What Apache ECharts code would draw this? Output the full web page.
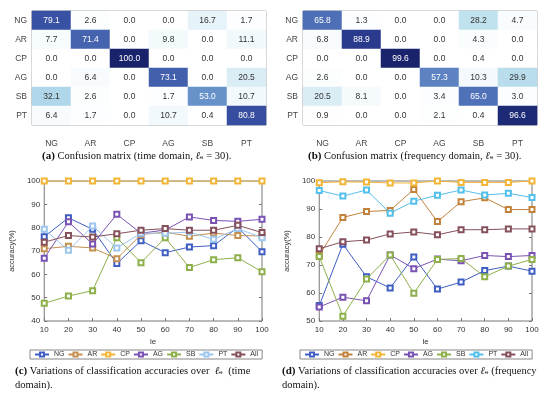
<!DOCTYPE html>
<html><head><meta charset="utf-8">
<script src="https://cdn.jsdelivr.net/npm/echarts@6/dist/echarts.min.js"></script>
<style>
html,body{margin:0;padding:0;background:#fff;}
#wrap{position:relative;width:550px;height:396px;}
#left,#right{position:absolute;top:0;width:275px;height:396px;}
#left{left:0;} #right{left:275px;}
</style>
</head><body>
<div id="wrap"><div id="left"></div><div id="right"></div></div>
<script>
// ---------- DATA ----------
const classes = ['NG','AR','CP','AG','SB','PT'];
const cmTime = [
  [79.1, 2.6, 0.0, 0.0, 16.7, 1.7],
  [7.7, 71.4, 0.0, 9.8, 0.0, 11.1],
  [0.0, 0.0, 100.0, 0.0, 0.0, 0.0],
  [0.0, 6.4, 0.0, 73.1, 0.0, 20.5],
  [32.1, 2.6, 0.0, 1.7, 53.0, 10.7],
  [6.4, 1.7, 0.0, 10.7, 0.4, 80.8]
];
const cmFreq = [
  [65.8, 1.3, 0.0, 0.0, 28.2, 4.7],
  [6.8, 88.9, 0.0, 0.0, 4.3, 0.0],
  [0.0, 0.0, 99.6, 0.0, 0.4, 0.0],
  [2.6, 0.0, 0.0, 57.3, 10.3, 29.9],
  [20.5, 8.1, 0.0, 3.4, 65.0, 3.0],
  [0.9, 0.0, 0.0, 2.1, 0.4, 96.6]
];
const leValues = [10, 20, 30, 40, 50, 60, 70, 80, 90, 100];
const lineNames = ['NG','AR','CP','AG','SB','PT','All'];
// time domain accuracies
const timeNG  = [76.1, 84.2, 79.3, 64.6, 74.4, 69.3, 71.7, 72.3, 80.1, 69.7];
const timeAR  = [71.0, 72.0, 71.3, 66.7, 77.0, 78.1, 76.3, 77.7, 76.6, 76.5];
const timeCP  = [100, 100, 100, 100, 100, 100, 100, 100, 100, 100];
const timeAG  = [66.9, 82.5, 73.0, 85.7, 77.6, 79.0, 84.6, 83.1, 82.7, 83.6];
const timeSB  = [47.6, 50.7, 53.0, 75.7, 65.0, 75.7, 62.9, 66.3, 67.1, 61.1];
const timePT  = [79.3, 70.3, 80.7, 71.3, 77.6, 77.6, 78.1, 75.0, 79.6, 75.7];
const timeAll = [73.8, 76.6, 76.0, 77.4, 78.9, 79.6, 78.9, 78.9, 81.0, 77.9];
// frequency domain accuracies
const freqNG  = [55.5, 77.4, 65.8, 61.8, 72.9, 61.4, 63.9, 68.0, 69.6, 67.8];
const freqAR  = [73.5, 87.0, 89.1, 89.5, 97.0, 85.5, 92.6, 94.0, 89.8, 89.8];
const freqCP  = [99.4, 99.7, 99.6, 99.3, 99.3, 100, 99.5, 99.5, 99.5, 100];
const freqAG  = [55.0, 58.5, 57.2, 73.6, 68.7, 72.1, 71.5, 73.4, 73.0, 73.4];
const freqSB  = [73.0, 51.7, 65.0, 73.6, 59.9, 72.0, 72.3, 65.8, 69.6, 72.0];
const freqPT  = [96.6, 94.6, 96.8, 88.5, 92.8, 94.9, 96.8, 95.0, 95.6, 94.1];
const freqAll = [75.8, 78.3, 78.9, 81.1, 81.8, 80.8, 82.6, 82.6, 82.9, 82.9];
const timeYTicks = [40, 100, 10];
const freqYTicks = [50, 100, 10];

// ---------- STYLE ----------
const colorsTime = ['#3f5ec4','#c39050','#f2b535','#7a52b4','#8db04a','#9cc6ee','#85505a'];
const colorsFreq = ['#3f5ec4','#c2823c','#f2b535','#7a52b4','#8db04a','#52c0ea','#85505a'];
const heatColors = ['#ffffff','#eef7fb','#bfe1ee','#80b8d9','#5c82c2','#4563af','#2f4196','#18236c'];
const serif = '"Liberation Serif", "DejaVu Serif", serif';
const sans = '"Liberation Sans", Arial, sans-serif';

function heatData(cm){
  const out = [];
  cm.forEach((row, r) => row.forEach((v, c) => {
    out.push({value:[c, r, v], label:{color: v > 50 ? '#ffffff' : '#333333'}});
  }));
  return out;
}

const capRich = {
  b:{fontFamily:serif, fontWeight:'bold', fontSize:11, fill:'#111'},
  n:{fontFamily:serif, fontSize:10.5, fill:'#111'},
  i:{fontFamily:serif, fontStyle:'italic', fontSize:10.5, fill:'#111'},
  s:{fontFamily:'"DejaVu Serif", serif', fontSize:10, fill:'#111'}
};
function caption(x, y, tag, body, extra){
  return {
    type:'text', left:x, top:y,
    style:{ text: '{b|(' + tag + ')}{n| ' + body + '}' + (extra || ''), rich:capRich }
  };
}

function build(cfg){
  const lineSeries = cfg.lines.map((d, k) => ({
    type:'line', name:lineNames[k], xAxisIndex:1, yAxisIndex:1,
    data: leValues.map((x, i) => [x, d[i]]),
    symbol:'emptyRect', symbolSize:5,
    lineStyle:{width:1, color:cfg.colors[k]},
    itemStyle:{color:cfg.colors[k], borderColor:cfg.colors[k], borderWidth:1},
    z: 3
  }));
  const axLabel = {fontFamily:sans, fontSize:8, color:'#333'};
  return {
    animation:false,
    backgroundColor:'#fff',
    grid:[
      {left:cfg.hmLeft, top:11, width:234, height:114, show:true, borderColor:'#9a9a9a', borderWidth:1},
      {left:cfg.lnLeft, top:181, width:cfg.lnWidth, height:140, show:true, borderColor:'#777', borderWidth:1}
    ],
    visualMap:{show:false, min:0, max:100, seriesIndex:0, dimension:2,
      inRange:{color:heatColors}},
    xAxis:[
      {type:'category', gridIndex:0, data:classes,
        axisLine:{show:false}, axisTick:{show:false}, splitLine:{show:false},
        axisLabel:{fontFamily:sans, fontSize:8.5, color:'#444', margin:14}},
      {type:'value', gridIndex:1, min:10, max:100, interval:10,
        name:'le', nameLocation:'middle', nameGap:17,
        nameTextStyle:{fontFamily:sans, fontSize:8, color:'#333'},
        axisLine:{show:false}, splitLine:{show:false},
        axisTick:{inside:true, length:3, lineStyle:{color:'#777'}},
        axisLabel:Object.assign({margin:5}, axLabel)},
      {type:'value', gridIndex:1, position:'top', min:10, max:100, interval:10,
        axisLine:{show:false}, splitLine:{show:false}, axisLabel:{show:false},
        axisTick:{inside:true, length:3, lineStyle:{color:'#777'}}}
    ],
    yAxis:[
      {type:'category', gridIndex:0, data:classes, inverse:true,
        axisLine:{show:false}, axisTick:{show:false}, splitLine:{show:false},
        axisLabel:{fontFamily:sans, fontSize:8.5, color:'#444', margin:5}},
      {type:'value', gridIndex:1, min:cfg.yTicks[0], max:cfg.yTicks[1], interval:cfg.yTicks[2],
        name:'accuracy(%)', nameLocation:'middle', nameGap:19,
        nameTextStyle:{fontFamily:sans, fontSize:7.5, color:'#333'},
        axisLine:{show:false}, splitLine:{show:false},
        axisTick:{inside:true, length:3, lineStyle:{color:'#777'}},
        axisLabel:Object.assign({margin:4}, axLabel)},
      {type:'value', gridIndex:1, position:'right', min:cfg.yTicks[0], max:cfg.yTicks[1], interval:cfg.yTicks[2],
        axisLine:{show:false}, splitLine:{show:false}, axisLabel:{show:false},
        axisTick:{inside:true, length:3, lineStyle:{color:'#777'}}}
    ],
    legend:{
      data:lineNames, left:cfg.lgLeft, top:350, width:300,
      orient:'horizontal', padding:[1,4,1,4], itemGap:3,
      itemWidth:14, itemHeight:5, borderColor:'#888', borderWidth:1,
      textStyle:{fontFamily:sans, fontSize:7, color:'#333'}
    },
    series:[
      {type:'heatmap', xAxisIndex:0, yAxisIndex:0, data:heatData(cfg.cm),
        label:{show:true, fontFamily:sans, fontSize:8.5,
          formatter:p => p.value[2].toFixed(1)},
        itemStyle:{borderWidth:0}}
    ].concat(lineSeries),
    graphic: cfg.graphic
  };
}

const leftOpt = build({
  cm:cmTime, lines:[timeNG,timeAR,timeCP,timeAG,timeSB,timePT,timeAll],
  colors:colorsTime, yTicks:timeYTicks,
  hmLeft:32, lnLeft:41, lnWidth:221, lgLeft:30,
  graphic:[
    caption(42, 151, 'a', 'Confusion matrix (time domain, ', '{i|ℓ}{s|ₑ}{n| = 30).}'),
    caption(15, 366, 'c', 'Variations of classification accuracies over ', '{i| ℓ}{s|ₑ}{n|  (time}'),
    {type:'text', left:15, top:380, style:{text:'domain).', font:'10.5px ' + serif, fill:'#111'}}
  ]
});
const rightOpt = build({
  cm:cmFreq, lines:[freqNG,freqAR,freqCP,freqAG,freqSB,freqPT,freqAll],
  colors:colorsFreq, yTicks:freqYTicks,
  hmLeft:28, lnLeft:35, lnWidth:222, lgLeft:25,
  graphic:[
    caption(33, 151, 'b', 'Confusion matrix (frequency domain, ', '{i|ℓ}{s|ₑ}{n| = 30).}'),
    caption(7, 366, 'd', 'Variations of classification accuracies over ', '{i|ℓ}{s|ₑ}{n| (frequency}'),
    {type:'text', left:7, top:380, style:{text:'domain).', font:'10.5px ' + serif, fill:'#111'}}
  ]
});
echarts.init(document.getElementById('left')).setOption(leftOpt);
echarts.init(document.getElementById('right')).setOption(rightOpt);
</script>
</body></html>
